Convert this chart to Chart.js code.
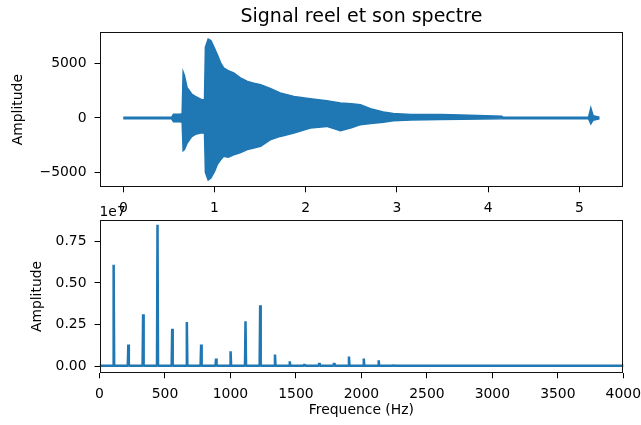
<!DOCTYPE html>
<html><head><meta charset="utf-8">
<script src="https://cdn.jsdelivr.net/npm/chart.js@4.4.1/dist/chart.umd.min.js"></script>
<style>
html,body{margin:0;padding:0;background:#fff;}
#wrap{position:relative;width:641px;height:425px;}
#wrap canvas{position:absolute;left:0;top:0;}
</style></head><body>
<div id="wrap"><canvas id="c1" width="641" height="425"></canvas><canvas id="c2" width="641" height="425"></canvas></div>
<script>
// ---- data ----
const chartTitle = 'Signal reel et son spectre';
const ampLabel = 'Amplitude';
const freqLabel = 'Frequence (Hz)';
const offsetText = '1e7';

// time-domain signal: envelope (upper / lower) of the waveform
const envTimes = [0, 0.53, 0.55, 0.62, 0.645, 0.656, 0.67, 0.70, 0.75, 0.79, 0.86, 0.89, 0.9, 0.93, 0.96, 1.00, 1.03, 1.07, 1.10, 1.15, 1.21, 1.28, 1.36, 1.43, 1.505, 1.61, 1.72, 1.87, 2.05, 2.23, 2.38, 2.50, 2.60, 2.71, 2.85, 2.96, 3.15, 3.48, 3.70, 4.15, 4.16, 5.10, 5.125, 5.15, 5.22];
const envUpper = [70, 70, 350, 350, 400, 4220, 3900, 2770, 2200, 1980, 1680, 1700, 6500, 7240, 7100, 6400, 5810, 5000, 4590, 4350, 4130, 3700, 3360, 3200, 3050, 2700, 2290, 1980, 1770, 1590, 1380, 1300, 1220, 850, 550, 420, 320, 320, 280, 170, 70, 70, 920, 200, 70];
const envLower = [-70, -70, -350, -350, -400, -3000, -2900, -2290, -1700, -1500, -1350, -1400, -5000, -5700, -5500, -4900, -4280, -3800, -3520, -3600, -3370, -3200, -2900, -2750, -2600, -2000, -1690, -1380, -920, -770, -1170, -900, -610, -500, -400, -250, -180, -130, -110, -80, -70, -70, -550, -200, -70];

// spectrum: harmonic peaks
const peakFreqs = [108, 220, 333, 443, 555, 667, 776, 890, 1001, 1115, 1227, 1340, 1453, 1565, 1678, 1791, 1905, 2018, 2132, 2245];
const peakAmps  = [6.09e6, 1.30e6, 3.12e6, 8.49e6, 2.25e6, 2.66e6, 1.30e6, 0.46e6, 0.90e6, 2.70e6, 3.66e6, 0.70e6, 0.30e6, 0.12e6, 0.20e6, 0.20e6, 0.58e6, 0.46e6, 0.36e6, 0.08e6];
const baseLevel = 4e4;
const spectrumEnd = 4200;

// tick labels
const timeTicks = [0, 1, 2, 3, 4, 5];
const sigTicks = [-5000, 0, 5000];
const freqTicks = [0, 500, 1000, 1500, 2000, 2500, 3000, 3500, 4000];
const specTicks = [0, 0.25e7, 0.5e7, 0.75e7];

// ---- styling ----
const BLUE = '#1f77b4';
const FONT = 'DejaVu Sans';
const tickFont = {family: FONT, size: 13.9};
Chart.defaults.color = '#000';
Chart.defaults.font.family = FONT;

const framePlugin = {
  id: 'frame',
  afterDraw(chart) {
    const {ctx, chartArea: a} = chart;
    ctx.save();
    ctx.strokeStyle = '#111';
    ctx.lineWidth = 1;
    ctx.strokeRect(Math.round(a.left) + 0.5, Math.round(a.top) + 0.5, Math.round(a.right) - Math.round(a.left) - 1, Math.round(a.bottom) - Math.round(a.top) - 1);
    ctx.restore();
  }
};
const offsetPlugin = {
  id: 'offsetText',
  afterDraw(chart) {
    const {ctx, chartArea: a} = chart;
    ctx.save();
    ctx.font = '13.9px "' + FONT + '"';
    ctx.fillStyle = '#000';
    ctx.textAlign = 'left';
    ctx.textBaseline = 'alphabetic';
    ctx.fillText(offsetText, a.left, a.top - 3.5);
    ctx.restore();
  }
};
const fmtMinus = v => String(v).replace('-', '\u2212');
function fixedTicks(arr) { return scale => { scale.ticks = arr.map(v => ({value: v})); }; }
function fitX(h) { return s => { s.height = h; s.paddingLeft = 0; s.paddingRight = 0; }; }
const gridCfg = {display: true, drawOnChartArea: false, drawTicks: true, tickLength: 5, color: '#000', lineWidth: 1};

// ---- top chart: signal ----
const upperPts = envTimes.map((t, i) => ({x: t, y: envUpper[i]}));
const lowerPts = envTimes.map((t, i) => ({x: t, y: envLower[i]}));

new Chart(document.getElementById('c1'), {
  type: 'line',
  data: {datasets: [
    {data: upperPts, borderColor: BLUE, backgroundColor: BLUE, borderWidth: 1.5, pointRadius: 0, tension: 0, fill: '+1'},
    {data: lowerPts, borderColor: BLUE, backgroundColor: BLUE, borderWidth: 1.5, pointRadius: 0, tension: 0, fill: false}
  ]},
  options: {
    responsive: false, animation: false, events: [],
    layout: {padding: {left: 0, right: 17.7, top: 0, bottom: 210}},
    plugins: {
      legend: {display: false}, tooltip: {enabled: false},
      title: {display: true, fullSize: false, text: chartTitle, color: '#000', font: {family: FONT, size: 19, weight: 'normal', lineHeight: 1.2}, padding: {top: 5.5, bottom: 3.7}}
    },
    scales: {
      x: {type: 'linear', min: -0.261, max: 5.481,
        afterBuildTicks: fixedTicks(timeTicks),
        afterFit: fitX(27.7),
        grid: gridCfg, border: {display: false},
        ticks: {font: tickFont, color: '#000', padding: 8, autoSkip: false, maxRotation: 0, callback: v => fmtMinus(v)}},
      y: {type: 'linear', min: -6360, max: 7890,
        afterBuildTicks: fixedTicks(sigTicks),
        afterFit: s => { s.width = 99.5; },
        grid: gridCfg, border: {display: false},
        title: {display: true, text: ampLabel, color: '#000', font: {family: FONT, size: 13.9, lineHeight: 1.2}, padding: {top: 10, bottom: 0}},
        ticks: {font: tickFont, color: '#000', padding: 8, autoSkip: false, callback: v => fmtMinus(v)}}
    }
  },
  plugins: [framePlugin]
});

// ---- bottom chart: spectrum ----
const specPts = [{x: 0, y: baseLevel}];
peakFreqs.forEach((f, i) => {
  specPts.push({x: f - 4, y: baseLevel}, {x: f, y: peakAmps[i]}, {x: f + 4, y: baseLevel});
});
specPts.push({x: spectrumEnd, y: baseLevel});

new Chart(document.getElementById('c2'), {
  type: 'line',
  data: {datasets: [
    {data: specPts, borderColor: BLUE, borderWidth: 2.5, borderJoinStyle: 'bevel', pointRadius: 0, tension: 0, fill: false}
  ]},
  options: {
    responsive: false, animation: false, events: [],
    layout: {padding: {left: 0, right: 17.7, top: 219.7, bottom: 0}},
    plugins: {legend: {display: false}, tooltip: {enabled: false}, title: {display: false}},
    scales: {
      x: {type: 'linear', min: 0, max: 4000,
        afterBuildTicks: fixedTicks(freqTicks),
        afterFit: fitX(51.7),
        grid: gridCfg, border: {display: false},
        title: {display: true, text: freqLabel, color: '#000', font: {family: FONT, size: 13.9, lineHeight: 1.2}, padding: {top: 0, bottom: 6.6}},
        ticks: {font: tickFont, color: '#000', padding: 8, autoSkip: false, maxRotation: 0, callback: v => String(v)}},
      y: {type: 'linear', min: -4.2e5, max: 8.79e6,
        afterBuildTicks: fixedTicks(specTicks),
        afterFit: s => { s.width = 99.5; },
        grid: gridCfg, border: {display: false},
        title: {display: true, text: ampLabel, color: '#000', font: {family: FONT, size: 13.9, lineHeight: 1.2}, padding: {top: 29, bottom: 0}},
        ticks: {font: tickFont, color: '#000', padding: 8, autoSkip: false, callback: v => (v / 1e7).toFixed(2)}}
    }
  },
  plugins: [framePlugin, offsetPlugin]
});
</script>
</body></html>
